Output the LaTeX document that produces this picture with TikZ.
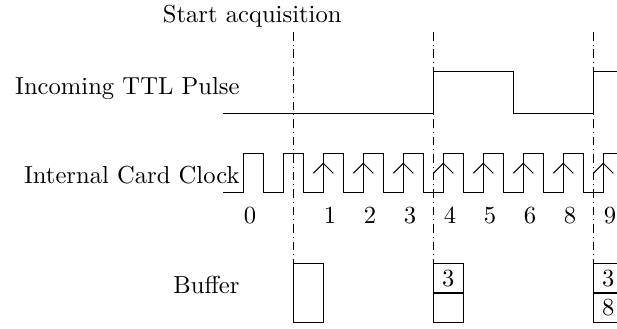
\documentclass[tikz,border=0pt]{standalone}
\begin{document}
\begin{tikzpicture}[x=0.0142857cm,y=-0.0142857cm,
  sig/.style={line width=0.4pt},
  guide/.style={line width=0.4pt,dash pattern=on 3.5pt off 1.6pt on 0.4pt off 1.6pt},
  lbl/.style={anchor=base east,inner sep=0pt},
  num/.style={anchor=base,inner sep=0pt},
  cell/.style={draw,line width=0.4pt,inner sep=0pt,minimum width=0.4286cm,minimum height=0.4286cm},
  tallcell/.style={draw,line width=0.4pt,inner sep=0pt,minimum width=0.4286cm,minimum height=0.8429cm},
  caret/.style={line width=0.4pt}]
\useasboundingbox (0,0) rectangle (617,329);

% labels
\node[lbl] (lstart) at (342,22.7) {Start acquisition};
\node[lbl] (lttl) at (240,95) {Incoming TTL Pulse};
\node[lbl] (lclk) at (240,183.3) {Internal Card Clock};
\node[lbl] (lbuf) at (240,293.3) {Buffer};

% guide lines
\foreach \n/\x in {1/293.3,2/433.3,3/593.3}{
  \coordinate (g\n t) at (\x,32);
  \coordinate (g\n b) at (\x,263.3);
  \draw[guide] (g\n t) -- (g\n b);
}

% TTL pulse
\coordinate (ttl0) at (223,113.3);
\draw[sig] (ttl0) -- (433.3,113.3) -- (433.3,71.7) -- (513.3,71.7) -- (513.3,113.3)
  -- (593.3,113.3) -- (593.3,71.7) -- (617,71.7);

% clock
\coordinate (clk0) at (223,192.3);
\draw[sig] (clk0)
  \foreach \k in {0,...,9}{
    -- ({243.3+40*\k},192.3) -- ({243.3+40*\k},153.3)
    \ifnum\k<9 -- ({263.3+40*\k},153.3) -- ({263.3+40*\k},192.3)\fi
  } -- (617,153.3);

% carets on counted rising edges
\foreach \k in {2,...,9}{
  \draw[caret] ({233.3+40*\k},173.3) -- ({243.3+40*\k},163.3) -- ({253.3+40*\k},173.3);
}

% sample numbers
\node[num] (n0) at (250,223.3) {0};
\foreach \x/\t in {330/1,370/2,410/3,450/4,490/5,530/6,570/8,610/9}{
  \node[num] (n\t) at (\x,223.3) {\t};
}

% buffers
\node[tallcell] (buf1) at (308.3,292.8) {};
\node[cell] (buf2a) at (448.3,278.3) {3};
\node[cell] (buf2b) at (448.3,307.8) {};
\node[cell] (buf3a) at (608.3,278.3) {3};
\node[cell] (buf3b) at (608.3,307.8) {8};
\end{tikzpicture}
\end{document}
